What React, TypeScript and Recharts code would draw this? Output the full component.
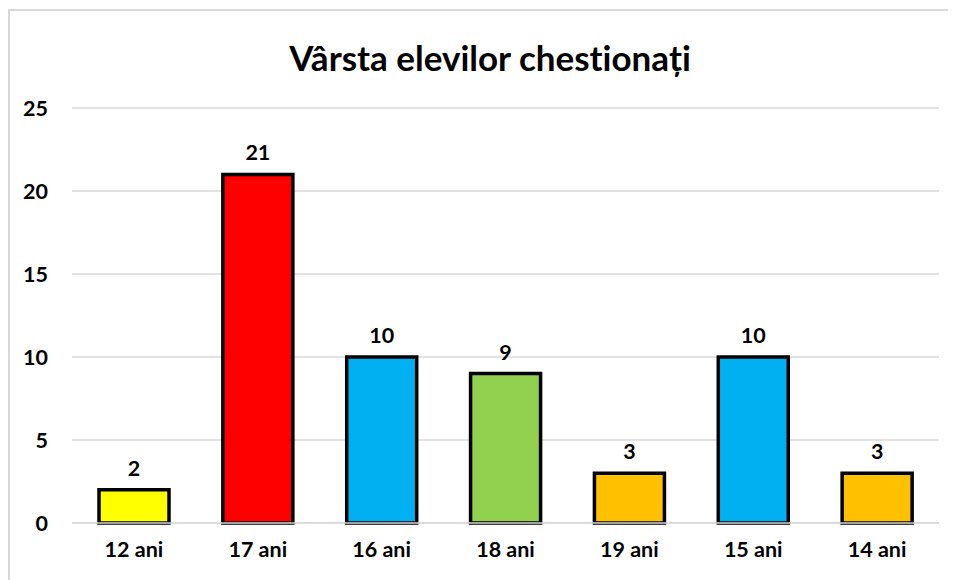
import { BarChart, Bar, XAxis, YAxis, CartesianGrid, LabelList, Cell } from 'recharts'

const categories = ['12 ani', '17 ani', '16 ani', '18 ani', '19 ani', '15 ani', '14 ani']
const counts = [2, 21, 10, 9, 3, 10, 3]
const barColors = ['#FFFF00', '#FF0000', '#00B0F0', '#92D050', '#FFC000', '#00B0F0', '#FFC000']
const yTicks = [0, 5, 10, 15, 20, 25]

const data = categories.map((age, i) => ({ age, count: counts[i] }))

const font = 'Lato, "Open Sans", sans-serif'

export default function App() {
  return (
    <div
      style={{
        marginTop: 1,
        width: 966,
        height: 600,
        border: '2px solid #d9d9d9',
        boxSizing: 'border-box',
        position: 'relative',
        background: '#fff',
        fontFamily: font,
      }}
    >
      <div
        style={{
          position: 'absolute',
          left: 0,
          width: 960,
          top: 26,
          lineHeight: '40px',
          textAlign: 'center',
          fontSize: 35,
          fontWeight: 700,
          fontVariantLigatures: 'none',
          color: '#000',
        }}
      >
        Vârsta elevilor chestionați
      </div>
      <BarChart
        width={940}
        height={560}
        data={data}
        margin={{ top: 97, right: 11, left: 0, bottom: 8 }}
      >
        <CartesianGrid vertical={false} stroke="#d9d9d9" strokeWidth={1.5} />
        <XAxis
          dataKey="age"
          axisLine={{ stroke: '#d9d9d9', strokeWidth: 1.5 }}
          tickLine={false}
          tickMargin={13}
          height={40}
          tick={{ fill: '#000', fontSize: 21.5, fontWeight: 700, fontFamily: font }}
        />
        <YAxis
          domain={[0, 25]}
          ticks={yTicks}
          width={62}
          axisLine={false}
          tickLine={false}
          tickMargin={18}
          tick={{ fill: '#000', fontSize: 21.5, fontWeight: 700, fontFamily: font }}
        />
        <Bar dataKey="count" barSize={70} stroke="#000" strokeWidth={3.5} isAnimationActive={false}>
          {data.map((d, i) => (
            <Cell key={d.age} fill={barColors[i]} />
          ))}
          <LabelList
            dataKey="count"
            position="top"
            offset={14}
            fill="#000"
            fontSize={21.5}
            fontWeight={700}
            fontFamily={font}
          />
        </Bar>
      </BarChart>
    </div>
  )
}
